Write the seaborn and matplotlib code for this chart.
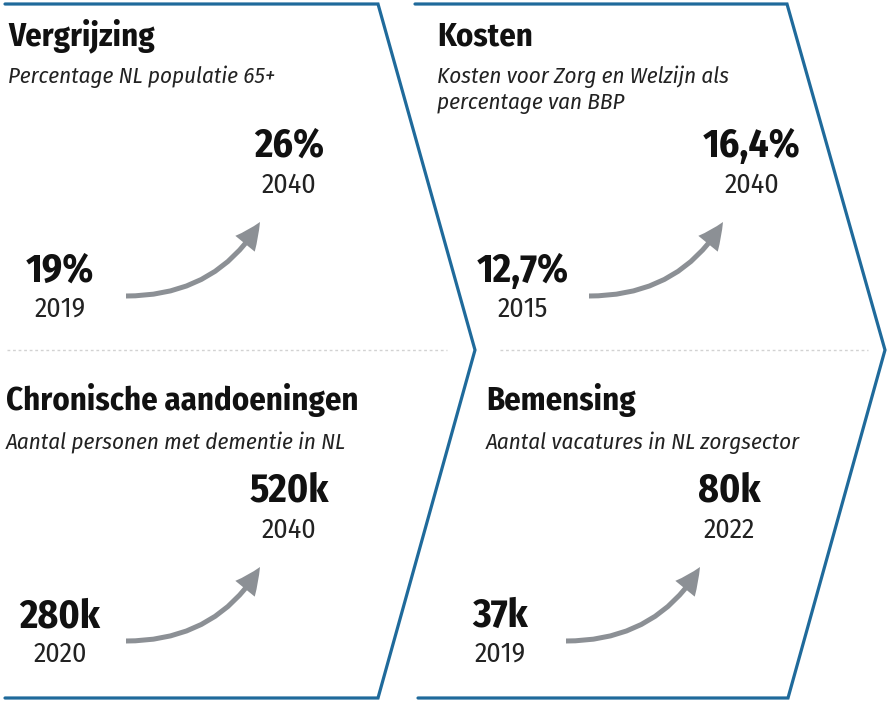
import matplotlib
matplotlib.use("Agg")
import matplotlib.pyplot as plt
import seaborn as sns
from matplotlib import font_manager
from matplotlib.path import Path
from matplotlib.patches import FancyArrowPatch

# panel content: top-left, top-right, bottom-left, bottom-right
titles = ["Vergrijzing", "Kosten", "Chronische aandoeningen", "Bemensing"]
subtitles = ["Percentage NL populatie 65+",
             "Kosten voor Zorg en Welzijn als\npercentage van BBP",
             "Aantal personen met dementie in NL",
             "Aantal vacatures in NL zorgsector"]
start_values = ["19%", "12,7%", "280k", "37k"]
start_years = ["2019", "2015", "2020", "2019"]
end_values = ["26%", "16,4%", "520k", "80k"]
end_years = ["2040", "2040", "2040", "2022"]

sns.set_theme(style="white")
names = {f.name for f in font_manager.fontManager.ttflist}
narrow = next((n for n in ["Liberation Sans Narrow", "Fira Sans Condensed", "Asap Condensed"] if n in names),
              "Liberation Sans")
plt.rcParams["font.family"] = [narrow, "DejaVu Sans"]

blue = "#1f6a9b"
grey = "#8c9095"

fig = plt.figure(figsize=(8.9, 7.02), dpi=100)
ax = fig.add_axes([0, 0, 1, 1])
ax.set_xlim(0, 890)
ax.set_ylim(702, 0)
ax.axis("off")

# chevron outlines
ax.plot([5, 378, 475, 378, 5], [4, 4, 350, 698, 698], color=blue, lw=2.3,
        solid_joinstyle="miter")
ax.plot([415, 787, 885, 788, 418], [4, 4, 350, 698, 698], color=blue, lw=2.3,
        solid_joinstyle="miter")
# dotted separators
ax.plot([7, 447], [350, 350], color="#d2d2d2", lw=1, ls=(0, (2, 2)))
ax.plot([500, 868], [350, 350], color="#d2d2d2", lw=1, ls=(0, (2, 2)))

# layout per panel
title_x = [8, 437, 6, 486]
content_dx = [0, 463, 0, 440]
row_dy = [0, 0, 345, 345]
title_y = [45, 45, 410, 410]
sub_y = [75, 75, 442, 442]

for i in range(4):
    dx, dy = content_dx[i], row_dy[i]
    ax.text(title_x[i], title_y[i], titles[i], fontsize=23.5, fontweight="bold",
            color="#111111", va="baseline", ha="left")
    ax.text(title_x[i], sub_y[i] - 10, subtitles[i], fontsize=16.5, style="italic",
            color="#222222", va="top", ha="left", linespacing=1.25)
    ax.text(289 + dx, 157 + dy, end_values[i], fontsize=28.5, fontweight="bold",
            color="#111111", va="baseline", ha="center")
    ax.text(289 + dx, 193 + dy, end_years[i], fontsize=20,
            color="#222222", va="baseline", ha="center")
    ax.text(60 + dx, 282 + dy, start_values[i], fontsize=28.5, fontweight="bold",
            color="#111111", va="baseline", ha="center")
    ax.text(60 + dx, 317 + dy, start_years[i], fontsize=20,
            color="#222222", va="baseline", ha="center")
    # curved growth arrow
    p0 = (126 + dx, 296 + dy)
    p1 = (217 + dx, 296 + dy)
    p2 = (260 + dx, 222 + dy)
    path = Path([p0, p1, p2], [Path.MOVETO, Path.CURVE3, Path.CURVE3])
    arrow = FancyArrowPatch(path=path,
                            arrowstyle="simple,head_length=19,head_width=18,tail_width=3.6",
                            color=grey, lw=0)
    ax.add_patch(arrow)

fig.savefig("out.png", dpi=100)
